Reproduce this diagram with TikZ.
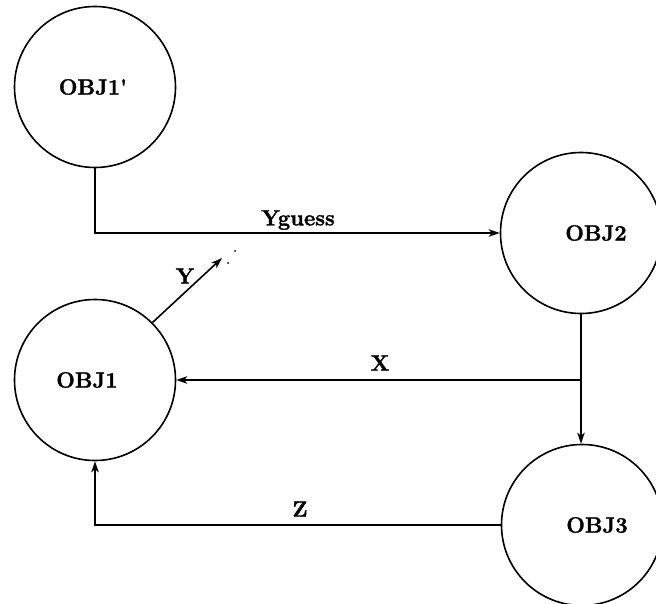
\documentclass[tikz,border=0pt]{standalone}
\usepackage{fontspec}
\setmainfont{Latin Modern Roman}
\usetikzlibrary{arrows.meta}
\begin{document}
\begin{tikzpicture}[x=1pt,y=-1pt,
  objcircle/.style={draw,circle,line width=1.6pt,minimum size=161pt,inner sep=0pt},
  objtext/.style={font=\fontsize{22}{25}\selectfont\bfseries\addfontfeatures{FakeBold=1.6},inner sep=0pt},
  wire/.style={line width=1.6pt},
  arr/.style={wire,-{Stealth[length=11pt,width=7.5pt,inset=3pt]}}]
\useasboundingbox (0,0) rectangle (656,604);

% objects
\node[objcircle] (o1p) at (95,87) {};
\node[objcircle] (o2) at (581,233) {};
\node[objcircle] (o1) at (95,380) {};
\node[objcircle] (o3) at (582,525) {};

\node[objtext] (t1p) at (93,87) {OBJ1\textquotesingle};
\node[objtext] (t2) at (596,233) {OBJ2};
\node[objtext] (t1) at (87,380) {OBJ1};
\node[objtext] (t3) at (597,525) {OBJ3};

% connectors
\draw[arr] (o1p.south) |- (o2.west);
\coordinate (ytip) at (222,258);
\draw[arr] (o1.45) -- (ytip);
\fill (228,263) circle (1pt);
\fill (235,251) circle (1pt);

\coordinate (split) at (o2.south |- o1.east);
\draw[arr] (o2.south) -- (o2.south |- o3.north);
\draw[arr] (split) -- (o1.east);
\draw[arr] (o3.west) -| (o1.south);

% labels
\node[objtext] (lyg) at (298,220) {Yguess};
\node[objtext] (ly) at (185,276) {Y};
\node[objtext] (lx) at (380,363) {X};
\node[objtext] (lz) at (300,509) {Z};
\end{tikzpicture}
\end{document}
